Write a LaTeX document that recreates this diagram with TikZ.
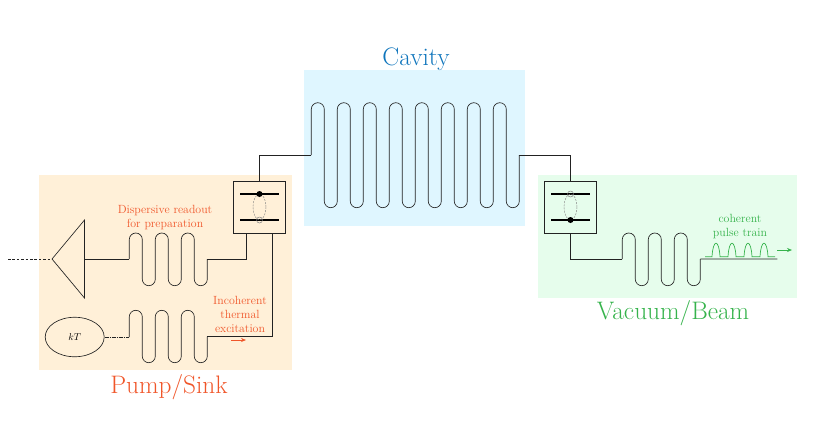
\documentclass[tikz,border=0pt]{standalone}
\usetikzlibrary{arrows.meta,shapes.geometric}
\definecolor{bgorange}{HTML}{FFF0D8}
\definecolor{bgcyan}{HTML}{DFF6FF}
\definecolor{bggreen}{HTML}{E6FDEC}
\definecolor{redor}{HTML}{F0562A}
\definecolor{grn}{HTML}{36B34C}
\definecolor{blu}{HTML}{0F75BC}
\definecolor{wire}{HTML}{222222}
\tikzset{
  panel/.style={fill=#1,draw=none},
  wireline/.style={draw=wire,line width=0.65bp},
  qbox/.style={draw=wire,line width=0.65bp,rectangle,minimum width=52.4bp,minimum height=52bp,inner sep=0pt},
  bar/.style={draw=black,line width=1.7bp},
  gdash/.style={draw=gray,line width=0.45bp,dashed,dash pattern=on 2bp off 1.2bp},
  bigtitle/.style={font=\fontsize{25.4}{28}\selectfont,inner sep=0pt},
  small/.style={font=\fontsize{11.9}{14}\selectfont,align=center,inner sep=0pt},
  thinarrow/.style={line width=0.7bp,-{Stealth[length=5bp,width=4bp]}}
}
\begin{document}
\begin{tikzpicture}[x=1bp,y=-1bp]
\useasboundingbox (0,0) rectangle (830,428);
% panels
\path[panel=bgorange] (39,175) rectangle (292,370);
\path[panel=bgcyan] (304,70) rectangle (525,226);
\path[panel=bggreen] (537.7,175) rectangle (797.3,297.7);
% titles
\node[bigtitle,text=blu] (tcav) at (416,59) {Cavity};
\node[bigtitle,text=redor] (tpump) at (169,387) {Pump/Sink};
\node[bigtitle,text=grn] (tvac) at (673,313) {Vacuum/Beam};
% qubit boxes
\node[qbox] (lbox) at (259.5,207.3) {};
\node[qbox] (rbox) at (570.5,207.3) {};
\coordinate (lt1) at (240,194); \coordinate (lt2) at (279,194);
\coordinate (lb1) at (240,220); \coordinate (lb2) at (279,220);
\coordinate (rt1) at (551,194); \coordinate (rt2) at (590,194);
\coordinate (rb1) at (551,220); \coordinate (rb2) at (590,220);
\draw[bar] (lt1) -- (lt2);
\draw[bar] (lb1) -- (lb2);
\draw[bar] (rt1) -- (rt2);
\draw[bar] (rb1) -- (rb2);
\draw[gdash] (259.5,207) ellipse [x radius=6.5,y radius=13];
\draw[gdash] (570.5,207) ellipse [x radius=6.5,y radius=13];
\draw[draw=gray,line width=0.45bp] (259.5,220) circle [radius=3];
\draw[draw=gray,line width=0.45bp] (570.5,194) circle [radius=3];
\fill[black] (259.5,194) circle [radius=3];
\fill[black] (570.5,220) circle [radius=3];
% cavity meander
\coordinate (cavin) at (311.3,155);
\draw[wireline] (cavin) -- ++(0,-45.8)
  \foreach \i in {1,...,7} { arc[start angle=180,end angle=360,radius=6.5] -- ++(0,92) arc[start angle=180,end angle=0,radius=6.5] -- ++(0,-92) }
  arc[start angle=180,end angle=360,radius=6.5] -- ++(0,92) arc[start angle=180,end angle=0,radius=6.5] -- ++(0,-46) coordinate (cavout);
\draw[wireline] (lbox.north) |- (cavin);
\draw[wireline] (rbox.north) |- (cavout);
% right meander
\coordinate (rin) at (622.3,259);
\draw[wireline] (rin) -- ++(0,-19.5)
  \foreach \i in {1,2} { arc[start angle=180,end angle=360,radius=6.5] -- ++(0,39.7) arc[start angle=180,end angle=0,radius=6.5] -- ++(0,-39.7) }
  arc[start angle=180,end angle=360,radius=6.5] -- ++(0,39.7) arc[start angle=180,end angle=0,radius=6.5] -- ++(0,-20.2) coordinate (rout);
\draw[wireline] (rbox.south) |- (rin);
\coordinate (rend) at (777.3,259);
\draw[wireline] (rout) -- (rend);
% pulse train
\coordinate (pstart) at (705,256.7);
\draw[draw=grn,line width=0.7bp] (pstart) -- ++(7,0)
  \foreach \i in {1,2,3} { .. controls +(1,-18) and +(-1,-18)  .. ++(8,0) -- ++(8,0) }
  .. controls +(1,-18) and +(-1,-18) .. ++(8,0) -- (775,256.7);
\coordinate (ga1) at (777,250); \coordinate (ga2) at (792,250);
\draw[thinarrow,draw=grn,fill=grn] (ga1) -- (ga2);
\node[small,text=grn] (tcoh) at (740,227) {coherent\\pulse train};
% left upper meander
\coordinate (luin) at (129.3,259);
\draw[wireline] (luin) -- ++(0,-19.5)
  \foreach \i in {1,2} { arc[start angle=180,end angle=360,radius=6.5] -- ++(0,39.7) arc[start angle=180,end angle=0,radius=6.5] -- ++(0,-39.7) }
  arc[start angle=180,end angle=360,radius=6.5] -- ++(0,39.7) arc[start angle=180,end angle=0,radius=6.5] -- ++(0,-20.2) coordinate (luout);
\coordinate (ls1) at (246.5,233.3);
\draw[wireline] (luout) -| (ls1);
% triangle (amplifier)
\coordinate (tip) at (52,259); \coordinate (tt) at (84.5,220); \coordinate (tb) at (84.5,298); \coordinate (tr) at (84.5,259);
\draw[wireline] (tip) -- (tt) -- (tb) -- cycle;
\draw[wireline] (tr) -- (luin);
\coordinate (dashend) at (8,259);
\draw[draw=wire,line width=0.65bp,dashed,dash pattern=on 2.6bp off 1.8bp] (dashend) -- (tip);
% left lower meander
\coordinate (llin) at (129.3,337);
\draw[wireline] (llin) -- ++(0,-20.2)
  \foreach \i in {1,2} { arc[start angle=180,end angle=360,radius=6.5] -- ++(0,39.4) arc[start angle=180,end angle=0,radius=6.5] -- ++(0,-39.4) }
  arc[start angle=180,end angle=360,radius=6.5] -- ++(0,39.4) arc[start angle=180,end angle=0,radius=6.5] -- ++(0,-19.7) coordinate (llout);
\coordinate (ls2) at (272.7,233.3);
\draw[wireline] (llout) -| (ls2);
\node[draw=wire,line width=0.65bp,ellipse,minimum width=59bp,minimum height=39.5bp,inner sep=0pt,font=\fontsize{10}{12}\selectfont] (kt) at (74.7,337) {$kT$};
\draw[draw=wire,line width=0.65bp,dashed,dash pattern=on 4bp off 1bp on 1bp off 1bp] (kt) -- (llin);
% labels
\node[small,text=redor] (tdisp) at (165,217.5) {Dispersive readout\\for preparation};
\node[small,text=redor] (tinc) at (240,314) {Incoherent\\thermal\\excitation};
\coordinate (ra1) at (231,340); \coordinate (ra2) at (246,340);
\draw[thinarrow,draw=redor,fill=redor] (ra1) -- (ra2);
\end{tikzpicture}
\end{document}
